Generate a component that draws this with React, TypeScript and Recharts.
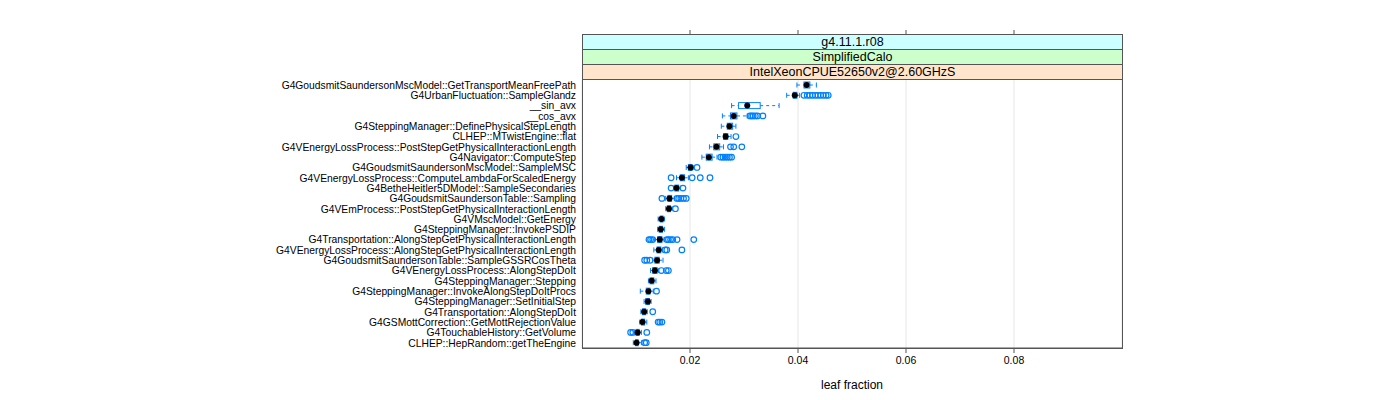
import React from 'react';
import { ComposedChart, Bar, XAxis, YAxis, CartesianGrid } from 'recharts';

const functions = [
  'G4GoudsmitSaundersonMscModel::GetTransportMeanFreePath',
  'G4UrbanFluctuation::SampleGlandz',
  '__sin_avx',
  '__cos_avx',
  'G4SteppingManager::DefinePhysicalStepLength',
  'CLHEP::MTwistEngine::flat',
  'G4VEnergyLossProcess::PostStepGetPhysicalInteractionLength',
  'G4Navigator::ComputeStep',
  'G4GoudsmitSaundersonMscModel::SampleMSC',
  'G4VEnergyLossProcess::ComputeLambdaForScaledEnergy',
  'G4BetheHeitler5DModel::SampleSecondaries',
  'G4GoudsmitSaundersonTable::Sampling',
  'G4VEmProcess::PostStepGetPhysicalInteractionLength',
  'G4VMscModel::GetEnergy',
  'G4SteppingManager::InvokePSDIP',
  'G4Transportation::AlongStepGetPhysicalInteractionLength',
  'G4VEnergyLossProcess::AlongStepGetPhysicalInteractionLength',
  'G4GoudsmitSaundersonTable::SampleGSSRCosTheta',
  'G4VEnergyLossProcess::AlongStepDoIt',
  'G4SteppingManager::Stepping',
  'G4SteppingManager::InvokeAlongStepDoItProcs',
  'G4SteppingManager::SetInitialStep',
  'G4Transportation::AlongStepDoIt',
  'G4GSMottCorrection::GetMottRejectionValue',
  'G4TouchableHistory::GetVolume',
  'CLHEP::HepRandom::getTheEngine',
];

const whiskerLow = [
  0.0398, 0.0379, 0.0277, 0.026, 0.0258, 0.0251, 0.0236, 0.0222, 0.0193, 0.0175, 0.017, 0.0155, 0.0155,
  0.0141, 0.014, 0.0134, 0.0133, 0.0131, 0.0127, 0.0123, 0.0108, 0.0115, 0.0109, 0.0107, 0.0097, 0.0095,
];
const lowerQuartile = [
  0.0411, 0.0391, 0.029, 0.0275, 0.0269, 0.0262, 0.0244, 0.023, 0.0197, 0.0182, 0.0172, 0.0159, 0.0158,
  0.0145, 0.0143, 0.014, 0.0139, 0.0135, 0.0131, 0.0126, 0.0119, 0.0118, 0.0112, 0.011, 0.01, 0.0099,
];
const medians = [
  0.0416, 0.0394, 0.0306, 0.0281, 0.0273, 0.0266, 0.0249, 0.0235, 0.0201, 0.0185, 0.0175, 0.0162, 0.0161,
  0.0147, 0.0146, 0.0144, 0.0142, 0.0139, 0.0135, 0.0129, 0.0123, 0.0122, 0.0115, 0.0112, 0.0103, 0.0101,
];
const upperQuartile = [
  0.0422, 0.0398, 0.033, 0.0287, 0.0279, 0.027, 0.0255, 0.0241, 0.0204, 0.019, 0.0179, 0.0166, 0.0164,
  0.015, 0.0149, 0.0148, 0.0146, 0.0143, 0.0139, 0.0133, 0.0126, 0.0125, 0.0118, 0.0116, 0.0106, 0.0104,
];
const whiskerHigh = [
  0.0434, 0.0403, 0.0365, 0.0306, 0.0285, 0.0276, 0.0262, 0.025, 0.0207, 0.0197, 0.0182, 0.0171, 0.0167,
  0.0153, 0.0153, 0.0152, 0.0149, 0.015, 0.0142, 0.0137, 0.0132, 0.0128, 0.0121, 0.012, 0.011, 0.011,
];
const outliers: number[][] = [
  [],
  [0.0411, 0.0417, 0.0422, 0.0427, 0.0432, 0.0437, 0.0442, 0.0447, 0.0452, 0.0456],
  [],
  [0.0311, 0.0314, 0.0317, 0.0321, 0.0325, 0.0335],
  [],
  [0.0285],
  [0.0275, 0.0281, 0.0296],
  [0.0257, 0.0261, 0.0265, 0.0269, 0.0273, 0.0277],
  [0.0213],
  [0.0165, 0.0204, 0.0219, 0.0237],
  [0.0165, 0.0187],
  [0.0148, 0.0176, 0.0179, 0.0183, 0.0188, 0.0193],
  [0.0173],
  [],
  [],
  [0.0124, 0.0127, 0.0131, 0.0157, 0.016, 0.0164, 0.0168, 0.0176, 0.0207],
  [0.0154, 0.0157, 0.0185],
  [0.0116, 0.012, 0.0126],
  [0.0147, 0.0156, 0.016],
  [],
  [0.0138],
  [],
  [0.0131],
  [0.0141, 0.0144, 0.0148],
  [0.009, 0.0094, 0.012],
  [0.0116, 0.0119],
];

const xTicks = [0.02, 0.04, 0.06, 0.08];
const strips = ['g4.11.1.r08', 'SimplifiedCalo', 'IntelXeonCPUE52650v2@2.60GHzS'];
const stripColors = ['#ccffff', '#ccffcc', '#ffe5cc'];

const data = functions.map((name, i) => {
  const all = [whiskerLow[i], whiskerHigh[i], ...outliers[i]];
  return {
    name,
    lo: whiskerLow[i],
    q1: lowerQuartile[i],
    med: medians[i],
    q3: upperQuartile[i],
    hi: whiskerHigh[i],
    out: outliers[i],
    span: [Math.min(...all), Math.max(...all)],
  };
});

const BLUE = '#0080ff';
const FRAME = '#555555';
const FONT = '"Liberation Sans", Arial, sans-serif';

// box, whiskers, median dot and outliers, positioned inside the range bar's pixel extent
const BoxShape = (props: any) => {
  const { x, y, width, height } = props;
  const p = props.payload ?? props;
  const [a, b] = p.span;
  const px = (v: number) => x + ((v - a) / (b - a)) * width;
  const cy = y + height / 2;
  return (
    <g>
      <line x1={px(p.lo)} x2={px(p.q1)} y1={cy} y2={cy} stroke={BLUE} strokeDasharray="3 3" />
      <line x1={px(p.q3)} x2={px(p.hi)} y1={cy} y2={cy} stroke={BLUE} strokeDasharray="3 3" />
      <line x1={px(p.lo)} x2={px(p.lo)} y1={cy - 2.5} y2={cy + 2.5} stroke={BLUE} />
      <line x1={px(p.hi)} x2={px(p.hi)} y1={cy - 2.5} y2={cy + 2.5} stroke={BLUE} />
      <rect x={px(p.q1)} y={cy - 3} width={px(p.q3) - px(p.q1)} height={6} fill="#fff" stroke={BLUE} />
      {p.out.map((v: number, k: number) => (
        <circle key={k} cx={px(v)} cy={cy} r={2.8} fill="none" stroke={BLUE} strokeWidth={1.2} />
      ))}
      <circle cx={px(p.med)} cy={cy} r={3} fill="#000" />
    </g>
  );
};

export default function App() {
  return (
    <div style={{ position: 'absolute', left: 0, top: 0, width: 1400, height: 400, fontFamily: FONT, background: '#fff' }}>
      <ComposedChart
        width={1400}
        height={400}
        layout="vertical"
        data={data}
        margin={{ top: 30, right: 278, bottom: 2, left: 0 }}
      >
        <CartesianGrid xAxisId="bottom" horizontal={false} stroke="#e6e6e6" />
        <XAxis
          xAxisId="bottom"
          type="number"
          domain={[0, 0.1]}
          ticks={xTicks}
          allowDataOverflow
          height={50}
          tickSize={5}
          tickMargin={4}
          axisLine={{ stroke: FRAME }}
          tickLine={{ stroke: FRAME }}
          tick={{ fill: '#000', fontSize: 10.5, fontFamily: FONT }}
          label={{ value: 'leaf fraction', position: 'insideBottom', offset: 9, fill: '#000', fontSize: 12, fontFamily: FONT }}
        />
        <XAxis
          xAxisId="top"
          orientation="top"
          type="number"
          domain={[0, 0.1]}
          ticks={xTicks}
          allowDataOverflow
          height={50}
          tickSize={50}
          axisLine={false}
          tickLine={{ stroke: FRAME }}
          tick={{ fill: 'transparent', fontSize: 1 }}
        />
        <YAxis
          type="category"
          dataKey="name"
          width={582}
          axisLine={false}
          tickLine={false}
          tickSize={0}
          tickMargin={6}
          interval={0}
          tick={{ fill: '#000', fontSize: 10.3, fontFamily: FONT }}
        />
        <Bar xAxisId="bottom" dataKey="span" barSize={6} shape={<BoxShape />} isAnimationActive={false} activeBar={false} />
      </ComposedChart>
      <div
        style={{
          position: 'absolute',
          left: 582,
          top: 34,
          width: 541,
          height: 315,
          boxSizing: 'border-box',
          border: `1px solid ${FRAME}`,
          pointerEvents: 'none',
        }}
      >
        {strips.map((s, i) => (
          <div
            key={s}
            style={{
              height: 15,
              boxSizing: 'border-box',
              borderBottom: `1px solid ${FRAME}`,
              background: stripColors[i],
              textAlign: 'center',
              fontSize: 12.5,
              lineHeight: '14px',
              color: '#000',
            }}
          >
            {s}
          </div>
        ))}
      </div>
    </div>
  );
}
